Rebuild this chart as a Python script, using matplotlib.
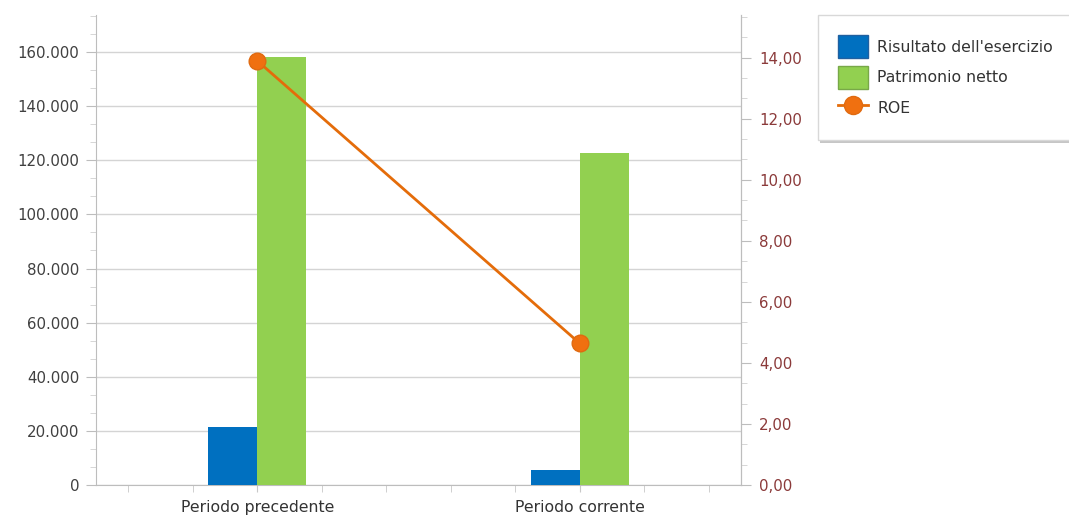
import matplotlib
matplotlib.use("Agg")
import matplotlib.pyplot as plt
import numpy as np
from matplotlib.ticker import FuncFormatter, MultipleLocator, FixedLocator
from matplotlib.lines import Line2D
from matplotlib.patches import Patch, Rectangle

categories = ["Periodo precedente", "Periodo corrente"]
risultato = [21400, 5500]
patrimonio = [158200, 122700]
roe = [13.9, 4.64]
series_names = ["Risultato dell'esercizio", "Patrimonio netto", "ROE"]

BLUE = "#0070C0"
GREEN = "#92D050"
ORANGE = "#E46C0A"
plt.rcParams['font.family'] = ['DejaVu Sans']

W, H = 1069, 520
fig = plt.figure(figsize=(W/100, H/100), dpi=100)
ax = fig.add_axes([96/W, 1-485/H, (741-96)/W, (485-15)/H])
x = np.arange(len(categories))
w = 0.152
ax.bar(x - w/2, risultato, width=w, color=BLUE, zorder=3)
ax.bar(x + w/2, patrimonio, width=w, color=GREEN, zorder=3)
ax.set_xlim(-0.5, 1.5)
ax.set_ylim(0, 173700)
ax.yaxis.set_major_locator(MultipleLocator(20000))
ax.yaxis.set_minor_locator(MultipleLocator(20000/3))
ax.yaxis.set_major_formatter(FuncFormatter(lambda v, p: f"{v:,.0f}".replace(",", ".")))
ax.set_xticks(x)
ax.set_xticklabels(categories)
ax.xaxis.set_minor_locator(FixedLocator([-0.4, -0.2, 0.2, 0.4, 0.6, 0.8, 1.2, 1.4]))
ax.grid(axis='y', color="#D4D4D4", linewidth=1, zorder=0)
ax.spines["top"].set_visible(False)
for s in ["left", "bottom", "right"]:
    ax.spines[s].set_color("#BDBDBD")
ax.tick_params(axis='y', which='major', length=7, color="#BDBDBD", labelsize=10.8, labelcolor="#404040", pad=5)
ax.tick_params(axis='y', which='minor', length=4, color="#D0D0D0")
ax.tick_params(axis='x', which='both', length=5, color="#C8C8C8", labelsize=11.3, labelcolor="#333333", pad=6)

ax2 = ax.twinx()
ax2.plot(x, roe, color=ORANGE, linewidth=2, marker='o', markersize=12,
         markerfacecolor="#F07010", markeredgecolor="#E06A10", zorder=5)
ax2.set_ylim(0, 15.4)
ax2.yaxis.set_major_locator(MultipleLocator(2))
ax2.yaxis.set_minor_locator(MultipleLocator(2/3))
ax2.yaxis.set_major_formatter(FuncFormatter(lambda v, p: f"{v:.2f}".replace(".", ",")))
for s in ["top", "left", "bottom"]:
    ax2.spines[s].set_visible(False)
ax2.spines["right"].set_color("#BDBDBD")
ax2.tick_params(axis='y', which='major', length=7, color="#BDBDBD", labelsize=10.8, labelcolor="#8B3A3A", pad=6)
ax2.tick_params(axis='y', which='minor', length=4, color="#D0D0D0")

# legend frame (drawn manually, with shadow, extending past the right edge)
fig.patches.append(Rectangle((820/W, 1-143/H), 260/W, 125/H, transform=fig.transFigure,
                             facecolor="#B8B8B8", edgecolor="none", alpha=0.8, zorder=0))
fig.patches.append(Rectangle((818/W, 1-140/H), 260/W, 125/H, transform=fig.transFigure,
                             facecolor="white", edgecolor="#D8D8D8", linewidth=1, zorder=1))

handles = [Patch(facecolor=BLUE, edgecolor="#2060A0"),
           Patch(facecolor=GREEN, edgecolor="#78A848"),
           Line2D([0], [0], color=ORANGE, linewidth=2, marker='o', markersize=13,
                  markerfacecolor="#F07010", markeredgecolor="#E06A10")]
leg = fig.legend(handles, series_names, loc='upper left', bbox_to_anchor=(818/W, 1-15/H),
                 frameon=False, fontsize=11.3, handlelength=1.9, handleheight=1.85,
                 labelspacing=0.51, borderpad=1.29, handletextpad=0.6, borderaxespad=0)
for t in leg.get_texts():
    t.set_color("#333333")

fig.savefig("out.png", dpi=100)
